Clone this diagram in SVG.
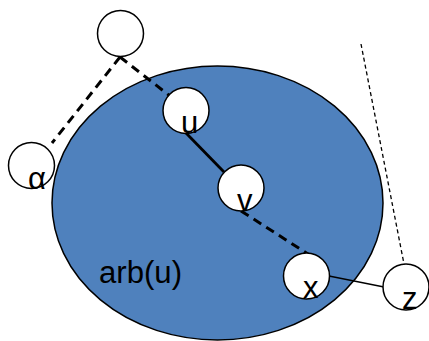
<svg xmlns="http://www.w3.org/2000/svg" width="429" height="341" viewBox="0 0 429 341">
<style>
.node{fill:#fff;stroke:#000;stroke-width:1.5}
.lbl{font-family:"Liberation Sans",Arial,sans-serif;font-size:31px;fill:#000}
.dash{stroke:#000;stroke-width:3;stroke-dasharray:9,6;fill:none}
.thin{stroke:#000;stroke-width:1.3;fill:none}
</style>
<rect width="429" height="341" fill="#fff"/>
<g id="arb">
<ellipse cx="217.5" cy="203" rx="165.5" ry="137" fill="#4f81bd" stroke="#000" stroke-width="1.5"/>
<text class="lbl" x="99" y="283" textLength="83" lengthAdjust="spacingAndGlyphs">arb(u)</text>
</g>
<g id="connectors">
<line class="dash" x1="120" y1="57" x2="52" y2="143"/>
<line class="dash" x1="120" y1="57" x2="170" y2="96"/>
<line x1="186" y1="133" x2="224" y2="172" stroke="#000" stroke-width="2.8"/>
<line class="dash" x1="241" y1="211" x2="308" y2="254"/>
<line class="thin" x1="329" y1="276" x2="384" y2="287"/>
<line class="thin" x1="361" y1="44" x2="404" y2="264" stroke-dasharray="4,3"/>
</g>
<g id="n-top"><circle class="node" cx="120.5" cy="33.5" r="23"/></g>
<g id="n-alpha"><circle class="node" cx="31.5" cy="165.5" r="23"/><text class="lbl" x="28" y="189">α</text></g>
<g id="n-u"><circle class="node" cx="186" cy="110.5" r="23"/><text class="lbl" x="181" y="133">u</text></g>
<g id="n-v"><circle class="node" cx="241" cy="188" r="23"/><text class="lbl" x="237" y="211">v</text></g>
<g id="n-x"><circle class="node" cx="306.5" cy="276" r="23"/><text class="lbl" x="303" y="298">x</text></g>
<g id="n-z"><circle class="node" cx="406" cy="287" r="23"/><text class="lbl" x="402" y="309">z</text></g>
</svg>
